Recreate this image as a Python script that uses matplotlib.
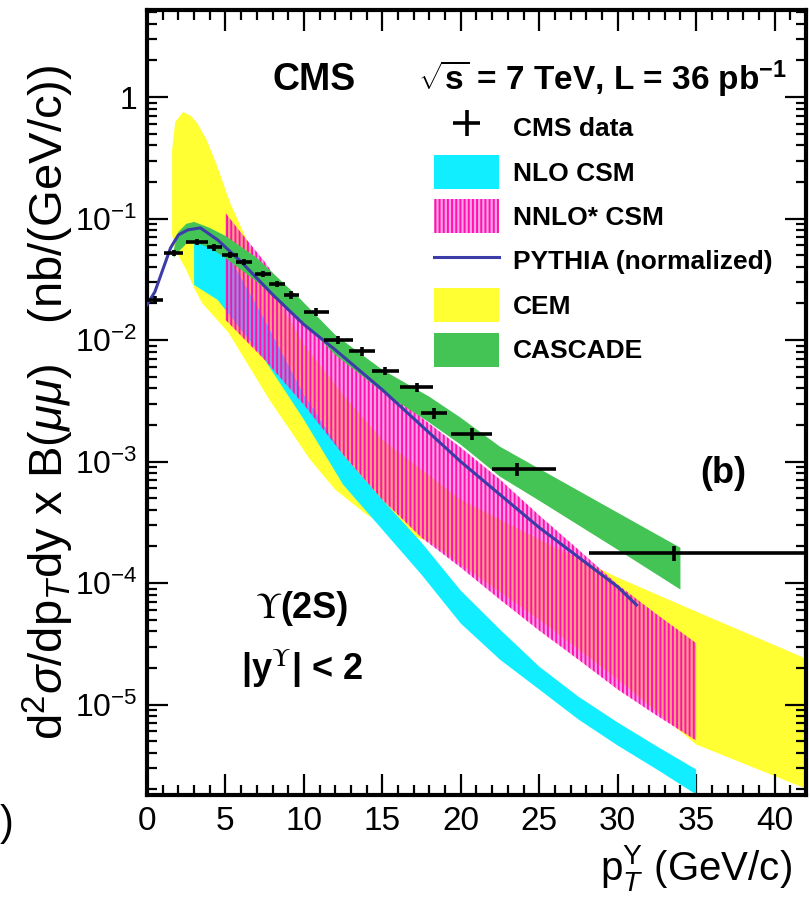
import numpy as np
import matplotlib
matplotlib.use("Agg")
import matplotlib.pyplot as plt
from matplotlib.ticker import MultipleLocator, FuncFormatter, LogLocator, NullFormatter

plt.rcParams['font.family'] = ['Liberation Sans', 'DejaVu Sans']
plt.rcParams['mathtext.fontset'] = 'custom'
plt.rcParams['mathtext.rm'] = 'Liberation Sans'
plt.rcParams['mathtext.it'] = 'Liberation Sans:italic'
plt.rcParams['mathtext.bf'] = 'Liberation Sans:bold'
plt.rcParams['hatch.linewidth'] = 1.4

# CMS data (pT in GeV/c, cross section in nb/(GeV/c))
data_pt = np.array([0.5, 1.7, 3.2, 4.3, 5.3, 6.2, 7.4, 8.3, 9.2, 10.8, 12.2, 13.7, 15.2, 17.2, 18.3, 20.7, 23.6, 33.6])
data_val = np.array([0.0214, 0.052, 0.064, 0.058, 0.050, 0.044, 0.035, 0.029, 0.0235, 0.017, 0.010, 0.0081,
                     0.0056, 0.0041, 0.0025, 0.0017, 8.6e-4, 1.78e-4])
data_xlo = np.array([0.5, 0.6, 0.7, 0.5, 0.5, 0.5, 0.5, 0.5, 0.5, 0.8, 0.9, 0.85, 0.85, 1.05, 0.85, 1.3, 1.6, 5.4])
data_xhi = np.array([0.5, 0.6, 0.7, 0.5, 0.5, 0.5, 0.5, 0.5, 0.5, 0.8, 0.9, 0.85, 0.85, 1.05, 0.85, 1.3, 2.5, 16.4])
data_rel = np.array([0.08, 0.06, 0.06, 0.06, 0.06, 0.06, 0.06, 0.06, 0.07, 0.07, 0.07, 0.08, 0.08, 0.09, 0.10,
                     0.11, 0.12, 0.14])

# CEM band
cem_x_up = np.array([1.6, 1.8, 2.3, 2.8, 3.2, 3.8, 4.4, 5.3, 6.5, 8, 10, 12.5, 15, 20, 25, 30, 35, 43])
cem_up = np.array([0.367, 0.623, 0.753, 0.698, 0.611, 0.443, 0.286, 0.134, 0.0607, 0.0259, 0.00914, 0.00354,
                   0.00151, 4.85e-4, 2.28e-4, 1.11e-4, 5.82e-5, 2.1e-5])
cem_x_lo = np.array([1.6, 1.8, 2.5, 3.0, 3.5, 5.2, 7.8, 10.4, 12, 14, 16, 18, 20, 25, 30, 35, 43])
cem_lo = np.array([0.0733, 0.0552, 0.0378, 0.0269, 0.0202, 0.01146, 0.00322, 0.001035, 5.86e-4, 3.65e-4,
                   2.65e-4, 2.2e-4, 1.42e-4, 5.0e-5, 1.61e-5, 4.69e-6, 1.8e-6])

# NLO CSM band
nlo_x = np.array([3, 4.5, 5, 7.5, 10, 12.5, 15, 17.5, 20, 22.5, 25, 27.5, 30, 32.5, 35])
nlo_up = np.array([0.0642, 0.0596, 0.0552, 0.01466, 0.00354, 0.001138, 4.85e-4, 2.15e-4, 8.65e-5, 4.14e-5,
                   2.05e-5, 1.16e-5, 7.11e-6, 4.52e-6, 2.92e-6])
nlo_lo = np.array([0.0284, 0.0214, 0.0177, 0.00687, 0.00221, 6.45e-4, 2.75e-4, 1.17e-4, 4.64e-5, 2.34e-5,
                   1.33e-5, 7.53e-6, 4.6e-6, 2.92e-6, 1.82e-6])

# NNLO* CSM band
nnlo_x_up = np.array([5, 6, 7.5, 10, 12.5, 15, 17.5, 20, 22.5, 25, 27.5, 30, 32.5, 35])
nnlo_up = np.array([0.111, 0.0761, 0.044, 0.0152, 0.0083, 0.00444, 0.00229, 0.0013, 7.1e-4, 3.6e-4, 1.88e-4,
                    9.7e-5, 5.5e-5, 3.2e-5])
nnlo_x_lo = np.array([5, 7.5, 10, 12.5, 15, 17.5, 20, 22.5, 25, 27.5, 30, 32.5, 35])
nnlo_lo = np.array([0.01466, 0.00687, 0.00293, 0.001138, 4.85e-4, 2.36e-4, 1.34e-4, 7.3e-5, 4.06e-5, 2.34e-5,
                    1.33e-5, 8.1e-6, 5.06e-6])

# CASCADE band
cas_x = np.array([1.7, 2.0, 2.5, 3.0, 4.0, 5.0, 7.0, 9.7, 12.0, 15.0, 18.0, 20.0, 22.5, 25.0, 30.0, 34.0])
cas_up = np.array([0.0552, 0.0776, 0.0903, 0.0938, 0.0837, 0.0719, 0.0474, 0.0222, 0.011, 0.00569, 0.00341,
                   0.00229, 0.001324, 8.72e-4, 3.79e-4, 1.95e-4])
cas_lo = np.array([0.0474, 0.0531, 0.0618, 0.0642, 0.0573, 0.0474, 0.0301, 0.0152, 0.00755, 0.00375, 0.00209,
                   0.001374, 7.5e-4, 4.76e-4, 1.88e-4, 8.83e-5])

# PYTHIA (normalized)
py_x = np.array([0.0, 0.5, 1.0, 1.5, 2.0, 2.6, 3.4, 4.5, 6, 8, 10, 12, 15, 20, 25, 30, 31.2])
py_val = np.array([0.0195, 0.0249, 0.0378, 0.0573, 0.0733, 0.0806, 0.0837, 0.0667, 0.044, 0.0237, 0.0134,
                   0.0083, 0.00389, 9.96e-4, 2.86e-4, 9.3e-5, 6.6e-5])

fig = plt.figure(figsize=(8.1, 9.18), dpi=100)
ax = fig.add_axes([0.1815, 0.134, 0.8135, 0.8551])
ax.set_yscale('log')
ax.set_xlim(0, 42)
ax.set_ylim(1.8e-6, 5.2)

h_cem = ax.fill(np.r_[cem_x_up, cem_x_lo[::-1]], np.r_[cem_up, cem_lo[::-1]],
                facecolor='#ffff33', edgecolor='none', zorder=1)[0]
h_nlo = ax.fill_between(nlo_x, nlo_lo, nlo_up, facecolor='#11eeff', edgecolor='none', zorder=2)
h_nnlo = ax.fill(np.r_[nnlo_x_up, nnlo_x_lo[::-1]], np.r_[nnlo_up, nnlo_lo[::-1]],
                 facecolor=(1.0, 0.25, 0.8, 0.5), edgecolor='#ff10b0', hatch='||||', linewidth=0, zorder=3)[0]
h_cas = ax.fill_between(cas_x, cas_lo, cas_up, facecolor='#44c455', edgecolor='none', zorder=4)
h_py, = ax.plot(py_x, py_val, color='#3c3ca8', lw=2.2, zorder=5)
h_data = ax.errorbar(data_pt, data_val, xerr=[data_xlo, data_xhi], yerr=data_val * data_rel,
                     fmt='none', ecolor='black', elinewidth=2.6, capsize=0, zorder=6)

# axes styling
for s in ax.spines.values():
    s.set_linewidth(3)
ax.xaxis.set_major_locator(MultipleLocator(5))
ax.xaxis.set_minor_locator(MultipleLocator(1))
ax.yaxis.set_major_locator(LogLocator(base=10, numticks=20))
ax.yaxis.set_minor_locator(LogLocator(base=10, subs=np.arange(2, 10), numticks=20))
ax.yaxis.set_minor_formatter(NullFormatter())


def ylab(v, pos):
    e = int(round(np.log10(v)))
    if e == 0:
        return '1'
    return r'$10^{%d}$' % e


ax.yaxis.set_major_formatter(FuncFormatter(ylab))
ax.tick_params(which='both', direction='in', top=True, right=True, width=1.6, colors='black')
ax.tick_params(which='major', length=15)
ax.tick_params(which='minor', length=7.5)
ax.tick_params(axis='x', which='major', labelsize=24, pad=8)
ax.tick_params(axis='y', which='major', labelsize=23, pad=7)

fig.text(76 / 810, 0.5615, r'd$^{2}\sigma$/dp$_{T}$dy x B($\mu\mu$)   (nb/(GeV/c))', rotation=90,
         ha='right', va='center', fontsize=34)
fig.text(0.978, 0.0414, r'p$_{T}^{\Upsilon}$ (GeV/c)', ha='right', va='baseline', fontsize=29)
fig.text(0.0, 0.09, ')', ha='left', va='baseline', fontsize=30)

ax.text(0.19, 0.898, 'CMS', transform=ax.transAxes, ha='left', va='baseline', fontsize=27,
        fontweight='bold')
ax.text(0.412, 0.898, r'$\mathbf{\sqrt{s}}$ = 7 TeV, L = 36 pb$^{\mathbf{-1}}$', transform=ax.transAxes,
        ha='left', va='baseline', fontsize=24, fontweight='bold')
ax.text(0.84, 0.397, '(b)', transform=ax.transAxes, ha='left', va='baseline', fontsize=26,
        fontweight='bold')
ax.text(0.164, 0.2255, r'$\Upsilon$', transform=ax.transAxes, ha='left', va='baseline', fontsize=26,
        math_fontfamily='stix')
ax.text(0.202, 0.2255, '(2S)', transform=ax.transAxes, ha='left', va='baseline', fontsize=26,
        fontweight='bold')
ax.text(0.142, 0.1465, r'|y$^{\Upsilon}$| < 2', transform=ax.transAxes, ha='left', va='baseline',
        fontsize=26, fontweight='bold', math_fontfamily='stix')

leg = ax.legend([h_data, h_nlo, h_nnlo, h_py, h_cem, h_cas],
                ['CMS data', 'NLO CSM', 'NNLO* CSM', 'PYTHIA (normalized)', 'CEM', 'CASCADE'],
                loc='upper left', bbox_to_anchor=(0.436, 0.872), frameon=False, fontsize=19,
                handlelength=2.45, handleheight=1.6, labelspacing=0.4, handletextpad=0.53,
                borderpad=0, borderaxespad=0)
for t in leg.get_texts():
    t.set_fontweight('bold')

fig.savefig('out.png', dpi=100)
